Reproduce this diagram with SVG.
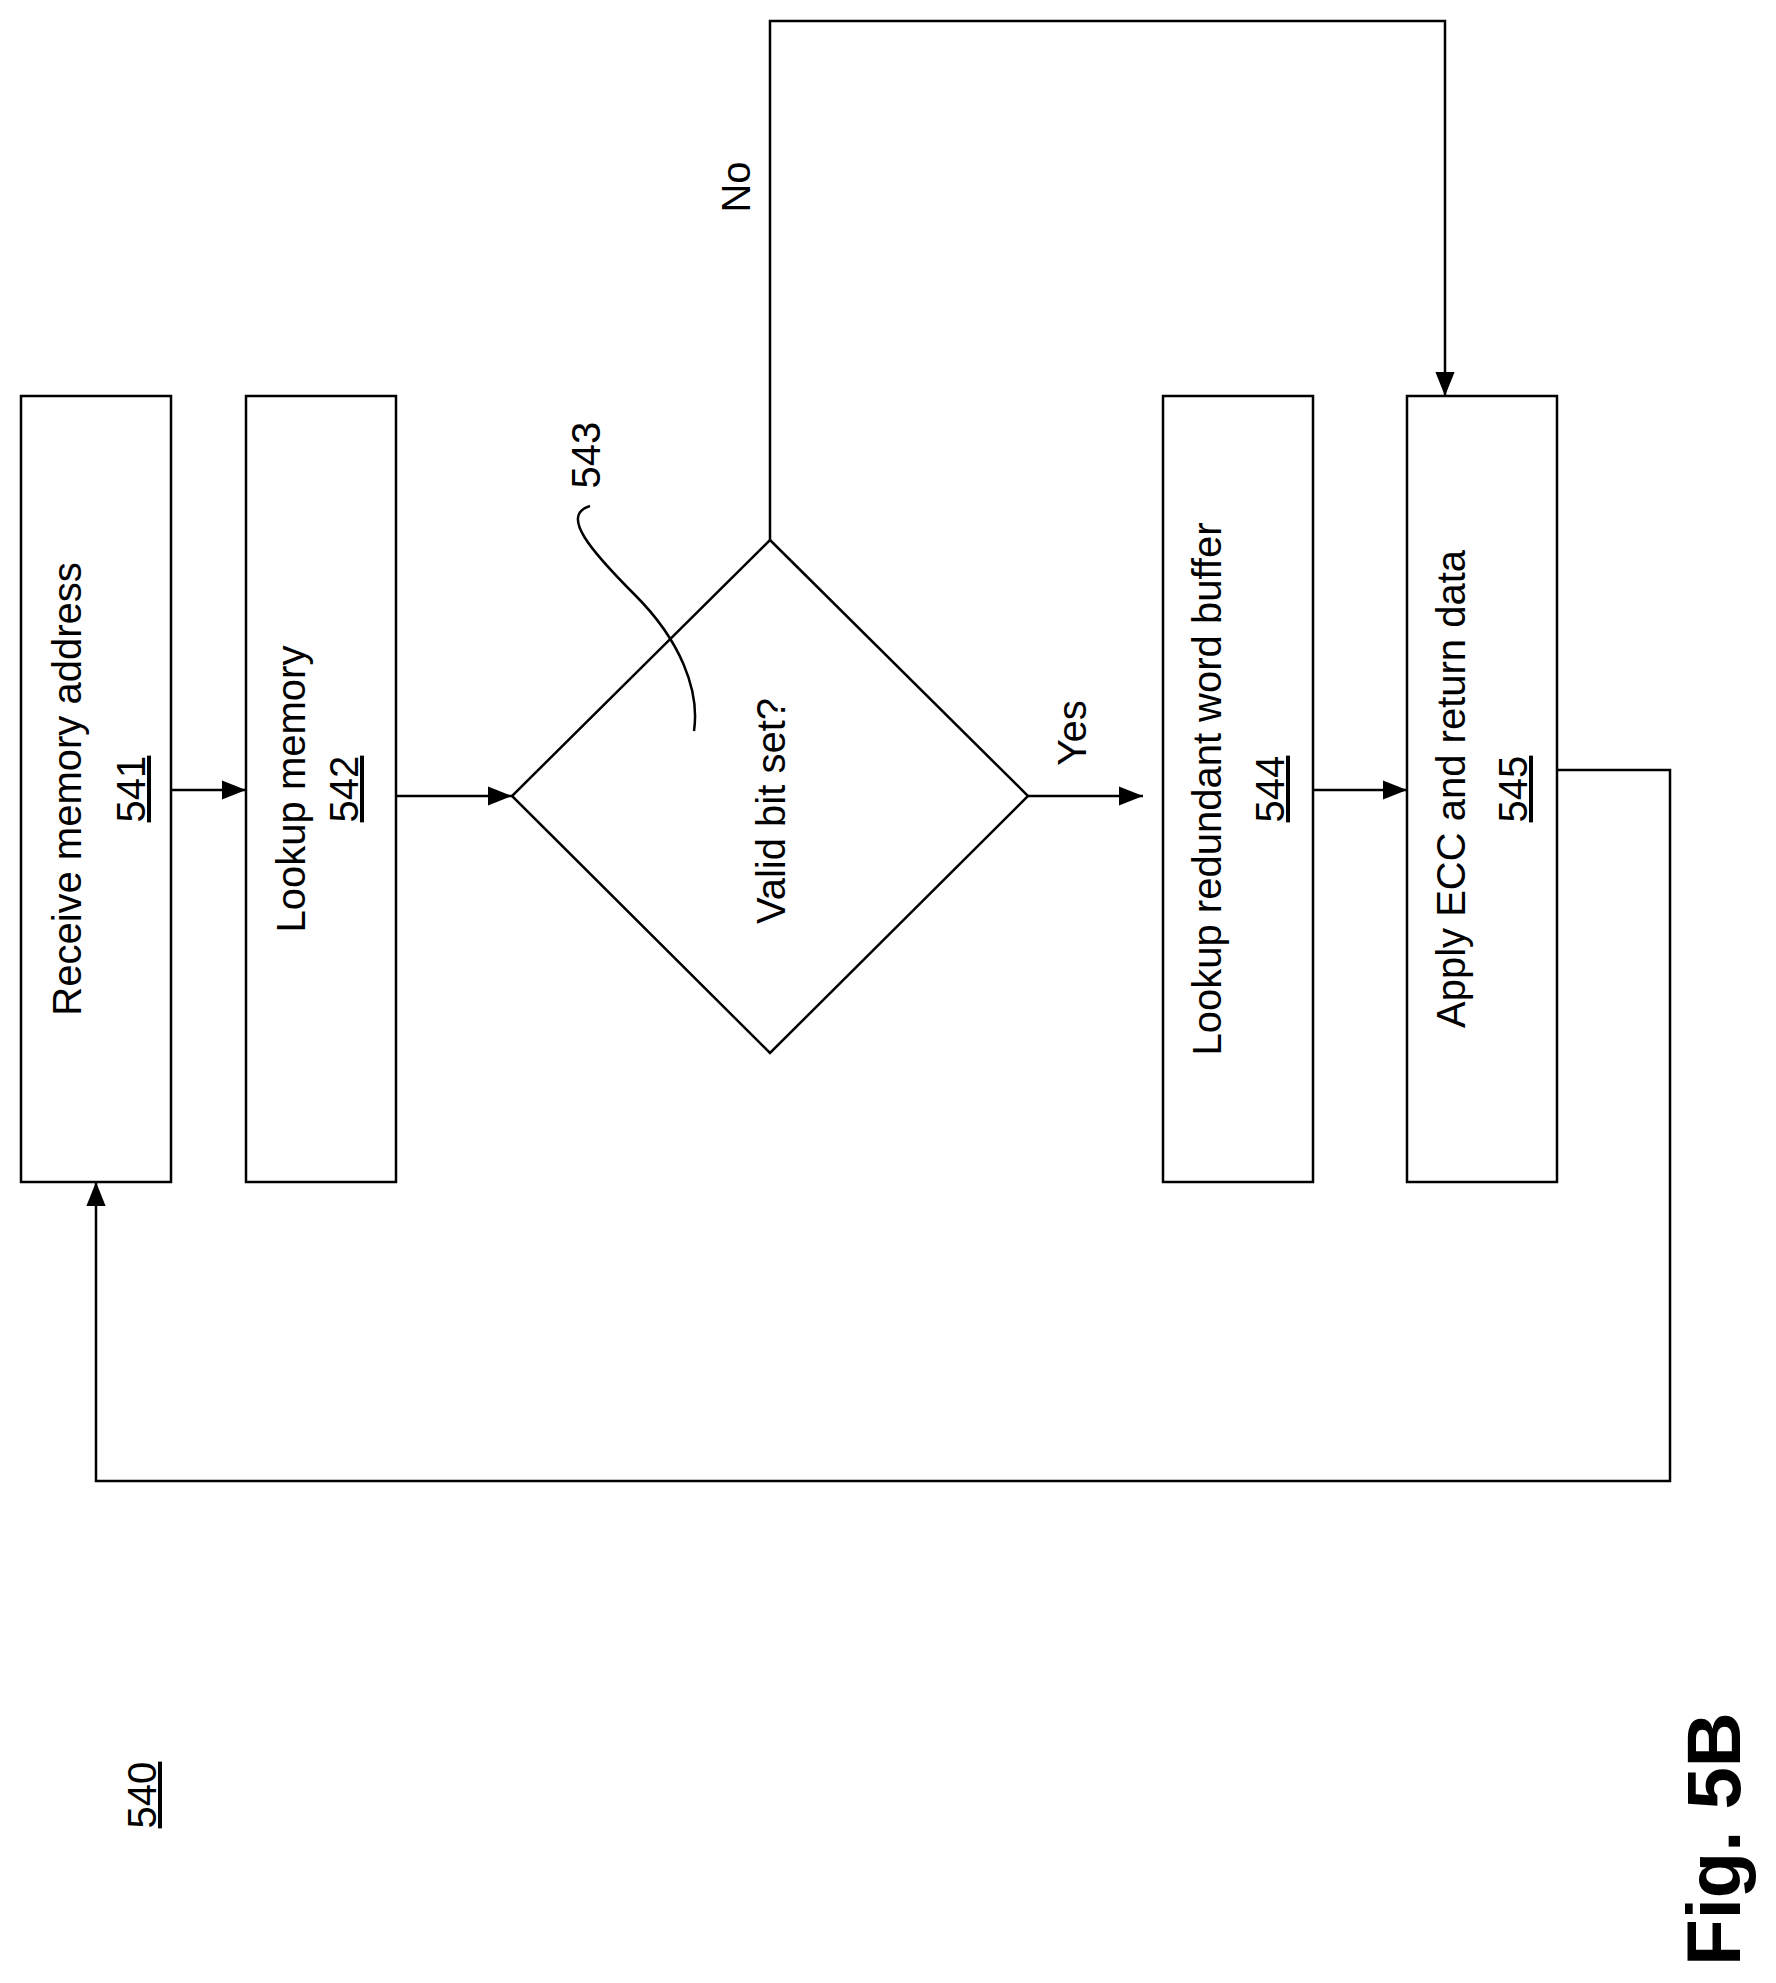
<svg xmlns="http://www.w3.org/2000/svg" width="1776" height="1983" viewBox="0 0 1776 1983">
<style>
.b{fill:#fff;stroke:#000;stroke-width:2.5}
.c{fill:none;stroke:#000;stroke-width:2.5}
text{font-family:"Liberation Sans",Arial,sans-serif;font-size:40px;text-anchor:middle;fill:#000}
.u{text-decoration:underline}
</style>
<defs><marker id="m" viewBox="0 0 10 10" refX="10" refY="5" markerWidth="24" markerHeight="24" markerUnits="userSpaceOnUse" orient="auto"><path d="M0,1L10,5L0,9z"/></marker></defs>
<rect width="1776" height="1983" fill="#fff"/>
<g id="n541"><rect class="b" x="21" y="396" width="150" height="786"/>
<text transform="translate(81,789) rotate(-90)">Receive memory address</text>
<text class="u" transform="translate(145,789) rotate(-90)">541</text></g>
<g id="n542"><rect class="b" x="246" y="396" width="150" height="786"/>
<text transform="translate(305,789) rotate(-90)">Lookup memory</text>
<text class="u" transform="translate(358,789) rotate(-90)">542</text></g>
<g id="n543"><path class="b" d="M770,540L1028,796L770,1053L512,796z"/>
<text transform="translate(785,811) rotate(-90)">Valid bit set?</text></g>
<g id="n544"><rect class="b" x="1163" y="396" width="150" height="786"/>
<text transform="translate(1221,789) rotate(-90)">Lookup redundant word buffer</text>
<text class="u" transform="translate(1284,789) rotate(-90)">544</text></g>
<g id="n545"><rect class="b" x="1407" y="396" width="150" height="786"/>
<text transform="translate(1465,789) rotate(-90)">Apply ECC and return data</text>
<text class="u" transform="translate(1527,789) rotate(-90)">545</text></g>
<g id="connectors">
<path class="c" d="M171,790H246" marker-end="url(#m)"/>
<path class="c" d="M396,796H512" marker-end="url(#m)"/>
<path class="c" d="M1028,796H1143" marker-end="url(#m)"/>
<path class="c" d="M1312,790H1407" marker-end="url(#m)"/>
<path class="c" d="M770,540V21H1445V396" marker-end="url(#m)"/>
<path class="c" d="M1556,770H1670V1481H96V1182" marker-end="url(#m)"/>
<path class="c" d="M590,506C560,515 590,550 635,595C680,640 700,690 694,731"/>
<text transform="translate(600,455) rotate(-90)">543</text>
<text transform="translate(750,187) rotate(-90)">No</text>
<text transform="translate(1086,733) rotate(-90)">Yes</text>
</g>
<text class="u" transform="translate(156,1795) rotate(-90)">540</text>
<text transform="translate(1740,1839) rotate(-90)" style="font-weight:bold;font-size:76px">Fig. 5B</text>
</svg>
